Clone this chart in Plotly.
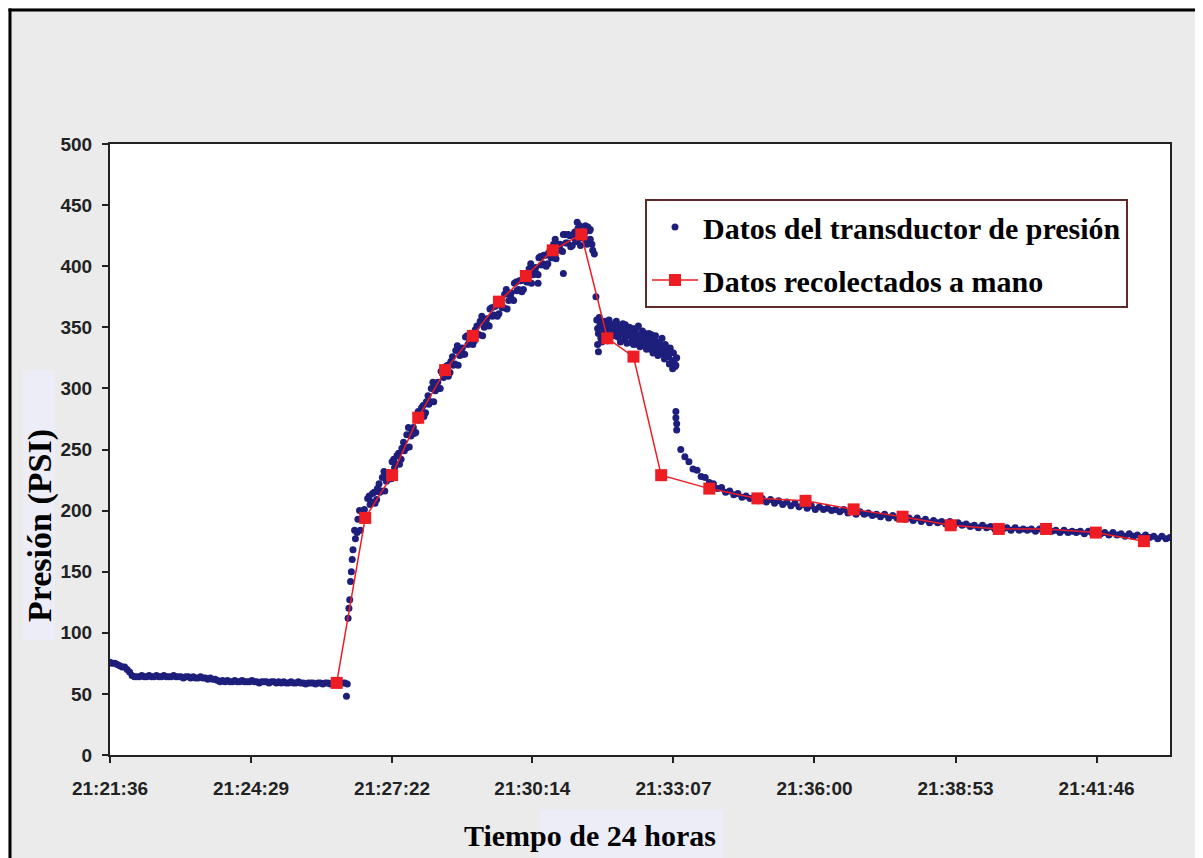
import numpy as np
import pandas as pd
import plotly.graph_objects as go

# ---------------- DATA ----------------
start_time = "21:21:36"
tick_labels = ["21:21:36", "21:24:29", "21:27:22", "21:30:14",
               "21:33:07", "21:36:00", "21:38:53", "21:41:46"]
x_end_seconds = 1300  # axis end, seconds after start

# Transducer readings (seconds after 21:21:36 -> PSI)
flat_t = list(range(0, 286, 3))
flat_v = [76, 75, 75, 74, 73, 72, 72, 70, 68, 65, 64, 64,
          64, 65, 64, 64, 65, 64, 64, 65, 64, 64, 65, 64, 64, 64, 65, 64,
          64, 64, 63, 64, 64, 63, 64, 63, 63, 64, 63, 63, 62, 63, 62,
          62, 61, 60, 61, 60, 61, 60, 60, 61, 60,
          60, 61, 60, 60, 60, 61, 60, 60, 59, 60,
          60, 60, 59, 60, 60, 59, 60, 59, 60, 59,
          59, 60, 59, 59, 60, 59, 59, 58, 59, 59,
          59, 58, 59, 59, 58, 59, 59, 58, 59, 59,
          58, 59, 59]

rise_t = list(range(300, 592, 3))
rise_v = [184, 182, 200, 193, 201, 196, 212, 207, 215, 209,
          222, 216, 232, 224, 231, 226, 242, 238, 247, 242,
          256, 251, 268, 261, 268, 264, 281, 277, 286, 280,
          294, 289, 305, 298, 305, 300, 316, 311, 319, 313,
          326, 320, 335, 327, 333, 328, 343, 338, 345, 339,
          351, 344, 359, 350, 357, 351, 366, 360, 368, 361,
          373, 366, 381, 372, 378, 372, 387, 381, 388, 381,
          394, 387, 402, 393, 399, 393, 408, 402, 409, 402,
          414, 407, 422, 413, 418, 412, 426, 419, 425, 417,
          428, 420, 433, 423, 427, 418, 429, 418]

rise2_t = list(range(301, 590, 3))
rise2_v = [177, 193, 184, 198, 196, 210, 205, 214, 206, 218,
           215, 227, 216, 229, 226, 240, 235, 245, 238, 251,
           249, 262, 252, 266, 263, 278, 274, 284, 277, 289,
           287, 300, 289, 303, 300, 314, 309, 318, 310, 322,
           319, 331, 319, 332, 328, 342, 336, 345, 336, 348,
           344, 355, 343, 355, 352, 365, 359, 367, 359, 370,
           366, 377, 365, 377, 373, 386, 380, 388, 379, 390,
           387, 398, 386, 398, 394, 407, 401, 409, 400, 411,
           407, 418, 406, 418, 413, 426, 419, 426, 416, 426,
           421, 431, 417, 428, 422, 432, 422]

cluster_t = list(range(597, 696, 2))
cluster_v = [356, 345, 352, 338, 350, 355, 343, 349, 353, 344,
             351, 347, 355, 342, 350, 346, 353, 340, 348, 343,
             350, 338, 346, 341, 349, 336, 344, 339, 347, 335,
             342, 337, 345, 332, 340, 335, 343, 330, 338, 333,
             341, 328, 336, 331, 326, 333, 322, 329, 318, 325]

cluster2_t = list(range(598, 695, 2))
cluster2_v = [349, 358, 341, 354, 347, 352, 339, 356, 346, 350,
              343, 354, 345, 351, 338, 349, 344, 352, 337, 347,
              343, 349, 336, 345, 340, 351, 334, 343, 338, 345,
              332, 341, 336, 344, 329, 339, 334, 327, 337, 330,
              334, 324, 332, 327, 320, 330, 316, 323, 319]

tail_t = list(range(700, 1301, 5))
tail_v = [250, 244, 240, 234, 233, 228, 227, 223, 222, 218,
          219, 215, 216, 213, 214, 211, 212, 210, 211, 208,
          210, 207, 209, 206, 208, 205, 207, 204, 206, 203,
          205, 202, 204, 201, 203, 201, 202, 200, 201, 199,
          201, 198, 200, 197, 199, 197, 198, 196, 197, 195,
          197, 194, 196, 194, 195, 193, 194, 192, 194, 191,
          193, 190, 192, 190, 191, 189, 191, 188, 190, 188,
          189, 187, 188, 186, 188, 186, 187, 185, 187, 185,
          186, 184, 186, 184, 185, 184, 185, 183, 185, 183,
          184, 183, 184, 182, 184, 182, 183, 182, 183, 181,
          183, 181, 182, 181, 182, 180, 182, 180, 181, 179,
          181, 179, 180, 178, 180, 178, 179, 177, 179, 177,
          178]

extra_t = [288, 290, 291, 292, 293, 294, 295, 296, 297, 298,
           525, 556, 573, 583, 589, 592, 594, 596, 598, 599,
           694, 694, 695, 695]
extra_v = [59, 48, 58, 112, 120, 127, 142, 150, 160, 168,
           386, 394, 436, 433, 430, 413, 410, 375, 336, 330,
           281, 276, 271, 266]

# Hand-collected readings
manual_t = [278, 313, 346, 378, 411, 445, 477, 510, 543, 578, 610, 642,
            676, 735, 794, 853, 912, 972, 1031, 1090, 1148, 1209, 1268]
manual_v = [59, 194, 229, 276, 315, 343, 371, 392, 413, 426, 341, 326,
            229, 218, 210, 208, 201, 195, 188, 185, 185, 182, 175]

# ---------------- BUILD ----------------
DAY = "2000-01-01 "
base = pd.Timestamp(DAY + start_time)


def to_dt(secs):
    return base + pd.to_timedelta(np.asarray(secs, dtype=float), unit="s")


trans_t = flat_t + rise_t + rise2_t + cluster_t + cluster2_t + tail_t + extra_t
trans_v = flat_v + rise_v + rise2_v + cluster_v + cluster2_v + tail_v + extra_v
tickvals = pd.to_datetime([DAY + s for s in tick_labels])

W, H = 1203, 858
PAGE = 8  # page body margin
# plot area in page (screen) pixels
L, R, T, B = 110, 1170, 144, 755


def px_x(p):
    return (p - L) / (R - L)


def px_y(p):
    return (B - p) / (B - T)


fig = go.Figure()
fig.add_trace(go.Scatter(
    x=to_dt(trans_t), y=trans_v, mode="markers",
    name="Datos del transductor de presión", legendgroup="a",
    marker=dict(color="#1e1e7c", size=7),
))
fig.add_trace(go.Scatter(
    x=to_dt(manual_t), y=manual_v, mode="lines+markers",
    name="Datos recolectados a mano", legendgroup="b",
    line=dict(color="#ee1d23", width=1.5),
    marker=dict(color="#ee1d23", symbol="square", size=12),
))

tickfont = dict(family="Liberation Sans, Arial", size=19, color="#222222", weight="bold")

fig.update_xaxes(
    type="date", range=[base, base + pd.Timedelta(seconds=x_end_seconds)],
    tickmode="array", tickvals=tickvals, ticktext=tick_labels,
    ticks="outside", ticklen=6, tickwidth=1.5, tickcolor="#222",
    ticklabelstandoff=9,
    showline=True, linecolor="#222", linewidth=2, mirror=True,
    showgrid=False, zeroline=False, tickfont=tickfont,
)
fig.update_yaxes(
    range=[0, 500], tick0=0, dtick=50,
    ticks="outside", ticklen=6, tickwidth=1.5, tickcolor="#222",
    ticklabelstandoff=6,
    showline=True, linecolor="#222", linewidth=2, mirror=True,
    showgrid=False, zeroline=False, tickfont=tickfont,
)

serif = "Liberation Serif, Times New Roman"
shapes = [
    # faint highlight behind axis titles
    dict(type="rect", xref="paper", yref="paper", x0=px_x(23), x1=px_x(55),
         y0=px_y(640), y1=px_y(370), fillcolor="#ededf7", line_width=0, layer="below"),
    dict(type="rect", xref="paper", yref="paper", x0=px_x(540), x1=px_x(723),
         y0=px_y(870), y1=px_y(810), fillcolor="#ededf7", line_width=0, layer="below"),
    # black outer frame (left and top)
    dict(type="line", xref="paper", yref="paper", x0=px_x(10), x1=px_x(10),
         y0=px_y(870), y1=px_y(8.5), line=dict(color="black", width=3), layer="above"),
    dict(type="line", xref="paper", yref="paper", x0=px_x(8.5), x1=px_x(1215),
         y0=px_y(10), y1=px_y(10), line=dict(color="black", width=3), layer="above"),
]

annotations = [
    dict(text="Presión (PSI)", xref="paper", yref="paper", x=px_x(40), y=px_y(526),
         xanchor="center", yanchor="middle", textangle=-90, showarrow=False,
         font=dict(family=serif, size=34, color="black", weight="bold")),
    dict(text="Tiempo de 24 horas", xref="paper", yref="paper", x=px_x(590), y=px_y(835),
         xanchor="center", yanchor="middle", showarrow=False,
         font=dict(family=serif, size=30, color="black", weight="bold")),
]

fig.update_layout(
    width=W, height=H,
    margin=dict(l=L - PAGE, r=W - (R - PAGE), t=T - PAGE, b=H - (B - PAGE), pad=0),
    paper_bgcolor="#ebebeb", plot_bgcolor="white",
    showlegend=True,
    legend=dict(x=px_x(645), y=px_y(199), xanchor="left", yanchor="top",
                bgcolor="white", bordercolor="#5e2a2a", borderwidth=2,
                font=dict(family=serif, size=30, color="black", weight="bold"),
                tracegroupgap=11, itemwidth=46),
    shapes=shapes, annotations=annotations,
)

fig.write_html("out.html")
